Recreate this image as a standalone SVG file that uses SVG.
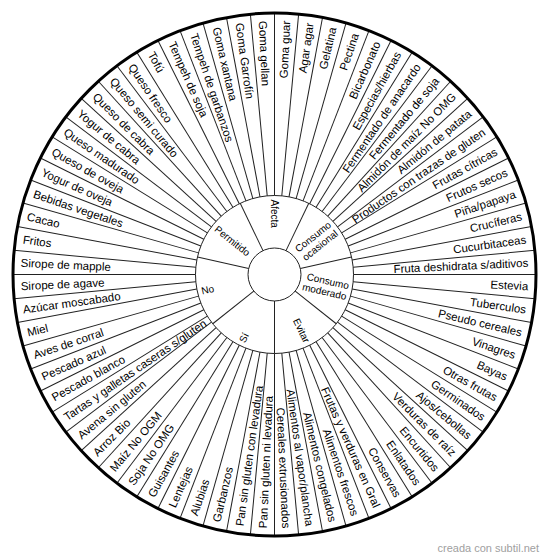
<svg xmlns="http://www.w3.org/2000/svg" width="550" height="559" viewBox="0 0 550 559">
<style>
.t{font-family:"Liberation Sans",Arial,sans-serif;font-size:11.5px;fill:#000}
.r{text-anchor:end}
.l{text-anchor:start}
.c{font-family:"Liberation Sans",Arial,sans-serif;font-size:10px;fill:#000}
.sp{stroke:#222;stroke-width:1;fill:none}
.ring{fill:none;stroke:#222;stroke-width:1}
</style>
<defs>
<line id="os" x1="0" y1="-79" x2="0" y2="-261.5"/>
<line id="is" x1="0" y1="-26.5" x2="0" y2="-79"/>
</defs>
<rect x="0" y="0" width="550" height="559" fill="#fff"/>
<g transform="translate(274.5,274.5)">
<circle r="261.5" fill="#fff" stroke="none"/>
<g id="connectors" class="sp">
<use href="#os" transform="rotate(0)"/><use href="#os" transform="rotate(5.2941)"/><use href="#os" transform="rotate(10.5882)"/><use href="#os" transform="rotate(15.8824)"/><use href="#os" transform="rotate(21.1765)"/><use href="#os" transform="rotate(26.4706)"/><use href="#os" transform="rotate(31.7647)"/><use href="#os" transform="rotate(37.0588)"/><use href="#os" transform="rotate(42.3529)"/><use href="#os" transform="rotate(47.6471)"/><use href="#os" transform="rotate(52.9412)"/><use href="#os" transform="rotate(58.2353)"/><use href="#os" transform="rotate(63.5294)"/><use href="#os" transform="rotate(68.8235)"/><use href="#os" transform="rotate(74.1176)"/><use href="#os" transform="rotate(79.4118)"/><use href="#os" transform="rotate(84.7059)"/><use href="#os" transform="rotate(90)"/><use href="#os" transform="rotate(95.2941)"/><use href="#os" transform="rotate(100.5882)"/><use href="#os" transform="rotate(105.8824)"/><use href="#os" transform="rotate(111.1765)"/><use href="#os" transform="rotate(116.4706)"/><use href="#os" transform="rotate(121.7647)"/><use href="#os" transform="rotate(127.0588)"/><use href="#os" transform="rotate(132.3529)"/><use href="#os" transform="rotate(137.6471)"/><use href="#os" transform="rotate(142.9412)"/><use href="#os" transform="rotate(148.2353)"/><use href="#os" transform="rotate(153.5294)"/><use href="#os" transform="rotate(158.8235)"/><use href="#os" transform="rotate(164.1176)"/><use href="#os" transform="rotate(169.4118)"/><use href="#os" transform="rotate(174.7059)"/><use href="#os" transform="rotate(180)"/><use href="#os" transform="rotate(185.2941)"/><use href="#os" transform="rotate(190.5882)"/><use href="#os" transform="rotate(195.8824)"/><use href="#os" transform="rotate(201.1765)"/><use href="#os" transform="rotate(206.4706)"/><use href="#os" transform="rotate(211.7647)"/><use href="#os" transform="rotate(217.0588)"/><use href="#os" transform="rotate(222.3529)"/><use href="#os" transform="rotate(227.6471)"/><use href="#os" transform="rotate(232.9412)"/><use href="#os" transform="rotate(238.2353)"/><use href="#os" transform="rotate(243.5294)"/><use href="#os" transform="rotate(248.8235)"/><use href="#os" transform="rotate(254.1176)"/><use href="#os" transform="rotate(259.4118)"/><use href="#os" transform="rotate(264.7059)"/><use href="#os" transform="rotate(270)"/><use href="#os" transform="rotate(275.2941)"/><use href="#os" transform="rotate(280.5882)"/><use href="#os" transform="rotate(285.8824)"/><use href="#os" transform="rotate(291.1765)"/><use href="#os" transform="rotate(296.4706)"/><use href="#os" transform="rotate(301.7647)"/><use href="#os" transform="rotate(307.0588)"/><use href="#os" transform="rotate(312.3529)"/><use href="#os" transform="rotate(317.6471)"/><use href="#os" transform="rotate(322.9412)"/><use href="#os" transform="rotate(328.2353)"/><use href="#os" transform="rotate(333.5294)"/><use href="#os" transform="rotate(338.8235)"/><use href="#os" transform="rotate(344.1176)"/><use href="#os" transform="rotate(349.4118)"/><use href="#os" transform="rotate(354.7059)"/>
<use href="#is" transform="rotate(25.7143)"/><use href="#is" transform="rotate(77.1429)"/><use href="#is" transform="rotate(128.5714)"/><use href="#is" transform="rotate(180)"/><use href="#is" transform="rotate(231.4286)"/><use href="#is" transform="rotate(282.8571)"/><use href="#is" transform="rotate(334.2857)"/>
</g>
<circle class="ring" r="79"/>
<circle class="ring" r="26.5"/>
<circle r="261.5" fill="none" stroke="#000" stroke-width="3"/>
<g id="inner-labels">
<g id="n-afecta"><text class="c l" transform="rotate(90)" x="-75" dy=".35em">Afecta</text></g>
<g id="n-consumo-ocasional"><text class="c r" transform="rotate(-38.57)" x="75" y="-5.5" dy=".35em">Consumo</text><text class="c r" transform="rotate(-38.57)" x="75" y="5.5" dy=".35em">ocasional</text></g>
<g id="n-consumo-moderado"><text class="c r" transform="rotate(12.86)" x="75" y="-5.5" dy=".35em">Consumo</text><text class="c r" transform="rotate(12.86)" x="75" y="5.5" dy=".35em">moderado</text></g>
<g id="n-evitar"><text class="c r" transform="rotate(64.29)" x="75" dy=".35em">Evitar</text></g>
<g id="n-si"><text class="c l" transform="rotate(-64.29)" x="-75" dy=".35em">Sí</text></g>
<g id="n-no"><text class="c l" transform="rotate(-12.86)" x="-75" dy=".35em">No</text></g>
<g id="n-permitido"><text class="c l" transform="rotate(38.57)" x="-75" dy=".35em">Permitido</text></g>
</g>
<g id="items">
<g id="i00"><text class="t r" transform="rotate(-87.353)" x="254" dy=".35em">Goma guar</text></g>
<g id="i01"><text class="t r" transform="rotate(-82.059)" x="254" dy=".35em">Agar agar</text></g>
<g id="i02"><text class="t r" transform="rotate(-76.765)" x="254" dy=".35em">Gelatina</text></g>
<g id="i03"><text class="t r" transform="rotate(-71.471)" x="254" dy=".35em">Pectina</text></g>
<g id="i04"><text class="t r" transform="rotate(-66.176)" x="254" dy=".35em">Bicarbonato</text></g>
<g id="i05"><text class="t r" transform="rotate(-60.882)" x="254" dy=".35em">Especias/hierbas</text></g>
<g id="i06"><text class="t r" transform="rotate(-55.588)" x="254" dy=".35em">Fermentado de anacardo</text></g>
<g id="i07"><text class="t r" transform="rotate(-50.294)" x="254" dy=".35em">Fermentado de soja</text></g>
<g id="i08"><text class="t r" transform="rotate(-45)" x="254" dy=".35em">Almidón de maíz No OMG</text></g>
<g id="i09"><text class="t r" transform="rotate(-39.706)" x="254" dy=".35em">Almidón de patata</text></g>
<g id="i10"><text class="t r" transform="rotate(-34.412)" x="254" dy=".35em">Productos con trazas de gluten</text></g>
<g id="i11"><text class="t r" transform="rotate(-29.118)" x="254" dy=".35em">Frutas cítricas</text></g>
<g id="i12"><text class="t r" transform="rotate(-23.824)" x="254" dy=".35em">Frutos secos</text></g>
<g id="i13"><text class="t r" transform="rotate(-18.529)" x="254" dy=".35em">Piña/papaya</text></g>
<g id="i14"><text class="t r" transform="rotate(-13.235)" x="254" dy=".35em">Crucíferas</text></g>
<g id="i15"><text class="t r" transform="rotate(-7.941)" x="254" dy=".35em">Cucurbitaceas</text></g>
<g id="i16"><text class="t r" transform="rotate(-2.647)" x="254" dy=".35em">Fruta deshidrata s/aditivos</text></g>
<g id="i17"><text class="t r" transform="rotate(2.647)" x="254" dy=".35em">Estevia</text></g>
<g id="i18"><text class="t r" transform="rotate(7.941)" x="254" dy=".35em">Tuberculos</text></g>
<g id="i19"><text class="t r" transform="rotate(13.235)" x="254" dy=".35em">Pseudo cereales</text></g>
<g id="i20"><text class="t r" transform="rotate(18.529)" x="254" dy=".35em">Vinagres</text></g>
<g id="i21"><text class="t r" transform="rotate(23.824)" x="254" dy=".35em">Bayas</text></g>
<g id="i22"><text class="t r" transform="rotate(29.118)" x="254" dy=".35em">Otras frutas</text></g>
<g id="i23"><text class="t r" transform="rotate(34.412)" x="254" dy=".35em">Germinados</text></g>
<g id="i24"><text class="t r" transform="rotate(39.706)" x="254" dy=".35em">Ajos/cebollas</text></g>
<g id="i25"><text class="t r" transform="rotate(45)" x="254" dy=".35em">Verduras de raíz</text></g>
<g id="i26"><text class="t r" transform="rotate(50.294)" x="254" dy=".35em">Encurtidos</text></g>
<g id="i27"><text class="t r" transform="rotate(55.588)" x="254" dy=".35em">Enlatados</text></g>
<g id="i28"><text class="t r" transform="rotate(60.882)" x="254" dy=".35em">Conservas</text></g>
<g id="i29"><text class="t r" transform="rotate(66.176)" x="254" dy=".35em">Frutas y verduras en Gral</text></g>
<g id="i30"><text class="t r" transform="rotate(71.471)" x="254" dy=".35em">Alimentos frescos</text></g>
<g id="i31"><text class="t r" transform="rotate(76.765)" x="254" dy=".35em">Alimentos congelados</text></g>
<g id="i32"><text class="t r" transform="rotate(82.059)" x="254" dy=".35em">Alimentos al vapor/plancha</text></g>
<g id="i33"><text class="t r" transform="rotate(87.353)" x="254" dy=".35em">Cereales extrusionados</text></g>
<g id="i34"><text class="t l" transform="rotate(-87.353)" x="-254" dy=".35em">Pan sin gluten ni levadura</text></g>
<g id="i35"><text class="t l" transform="rotate(-82.059)" x="-254" dy=".35em">Pan sin gluten con levadura</text></g>
<g id="i36"><text class="t l" transform="rotate(-76.765)" x="-254" dy=".35em">Garbanzos</text></g>
<g id="i37"><text class="t l" transform="rotate(-71.471)" x="-254" dy=".35em">Alubias</text></g>
<g id="i38"><text class="t l" transform="rotate(-66.176)" x="-254" dy=".35em">Lentejas</text></g>
<g id="i39"><text class="t l" transform="rotate(-60.882)" x="-254" dy=".35em">Guisantes</text></g>
<g id="i40"><text class="t l" transform="rotate(-55.588)" x="-254" dy=".35em">Soja No OMG</text></g>
<g id="i41"><text class="t l" transform="rotate(-50.294)" x="-254" dy=".35em">Maíz No OGM</text></g>
<g id="i42"><text class="t l" transform="rotate(-45)" x="-254" dy=".35em">Arroz Bio</text></g>
<g id="i43"><text class="t l" transform="rotate(-39.706)" x="-254" dy=".35em">Avena sin gluten</text></g>
<g id="i44"><text class="t l" transform="rotate(-34.412)" x="-254" dy=".35em">Tartas y galletas caseras s/gluten</text></g>
<g id="i45"><text class="t l" transform="rotate(-29.118)" x="-254" dy=".35em">Pescado blanco</text></g>
<g id="i46"><text class="t l" transform="rotate(-23.824)" x="-254" dy=".35em">Pescado azul</text></g>
<g id="i47"><text class="t l" transform="rotate(-18.529)" x="-254" dy=".35em">Aves de corral</text></g>
<g id="i48"><text class="t l" transform="rotate(-13.235)" x="-254" dy=".35em">Miel</text></g>
<g id="i49"><text class="t l" transform="rotate(-7.941)" x="-254" dy=".35em">Azúcar moscabado</text></g>
<g id="i50"><text class="t l" transform="rotate(-2.647)" x="-254" dy=".35em">Sirope de agave</text></g>
<g id="i51"><text class="t l" transform="rotate(2.647)" x="-254" dy=".35em">Sirope de mapple</text></g>
<g id="i52"><text class="t l" transform="rotate(7.941)" x="-254" dy=".35em">Fritos</text></g>
<g id="i53"><text class="t l" transform="rotate(13.235)" x="-254" dy=".35em">Cacao</text></g>
<g id="i54"><text class="t l" transform="rotate(18.529)" x="-254" dy=".35em">Bebidas vegetales</text></g>
<g id="i55"><text class="t l" transform="rotate(23.824)" x="-254" dy=".35em">Yogur de oveja</text></g>
<g id="i56"><text class="t l" transform="rotate(29.118)" x="-254" dy=".35em">Queso de oveja</text></g>
<g id="i57"><text class="t l" transform="rotate(34.412)" x="-254" dy=".35em">Queso madurado</text></g>
<g id="i58"><text class="t l" transform="rotate(39.706)" x="-254" dy=".35em">Yogur de cabra</text></g>
<g id="i59"><text class="t l" transform="rotate(45)" x="-254" dy=".35em">Queso de cabra</text></g>
<g id="i60"><text class="t l" transform="rotate(50.294)" x="-254" dy=".35em">Queso semi curado</text></g>
<g id="i61"><text class="t l" transform="rotate(55.588)" x="-254" dy=".35em">Queso fresco</text></g>
<g id="i62"><text class="t l" transform="rotate(60.882)" x="-254" dy=".35em">Tofú</text></g>
<g id="i63"><text class="t l" transform="rotate(66.176)" x="-254" dy=".35em">Tempeh de soja</text></g>
<g id="i64"><text class="t l" transform="rotate(71.471)" x="-254" dy=".35em">Tempeh de garbanzos</text></g>
<g id="i65"><text class="t l" transform="rotate(76.765)" x="-254" dy=".35em">Goma xantana</text></g>
<g id="i66"><text class="t l" transform="rotate(82.059)" x="-254" dy=".35em">Goma Garrofín</text></g>
<g id="i67"><text class="t l" transform="rotate(87.353)" x="-254" dy=".35em">Goma gellan</text></g>
</g>
</g>
<text x="539" y="551.5" text-anchor="end" font-family="'Liberation Sans',Arial,sans-serif" font-size="11" fill="#a0a0a0">creada con subtil.net</text>
</svg>
